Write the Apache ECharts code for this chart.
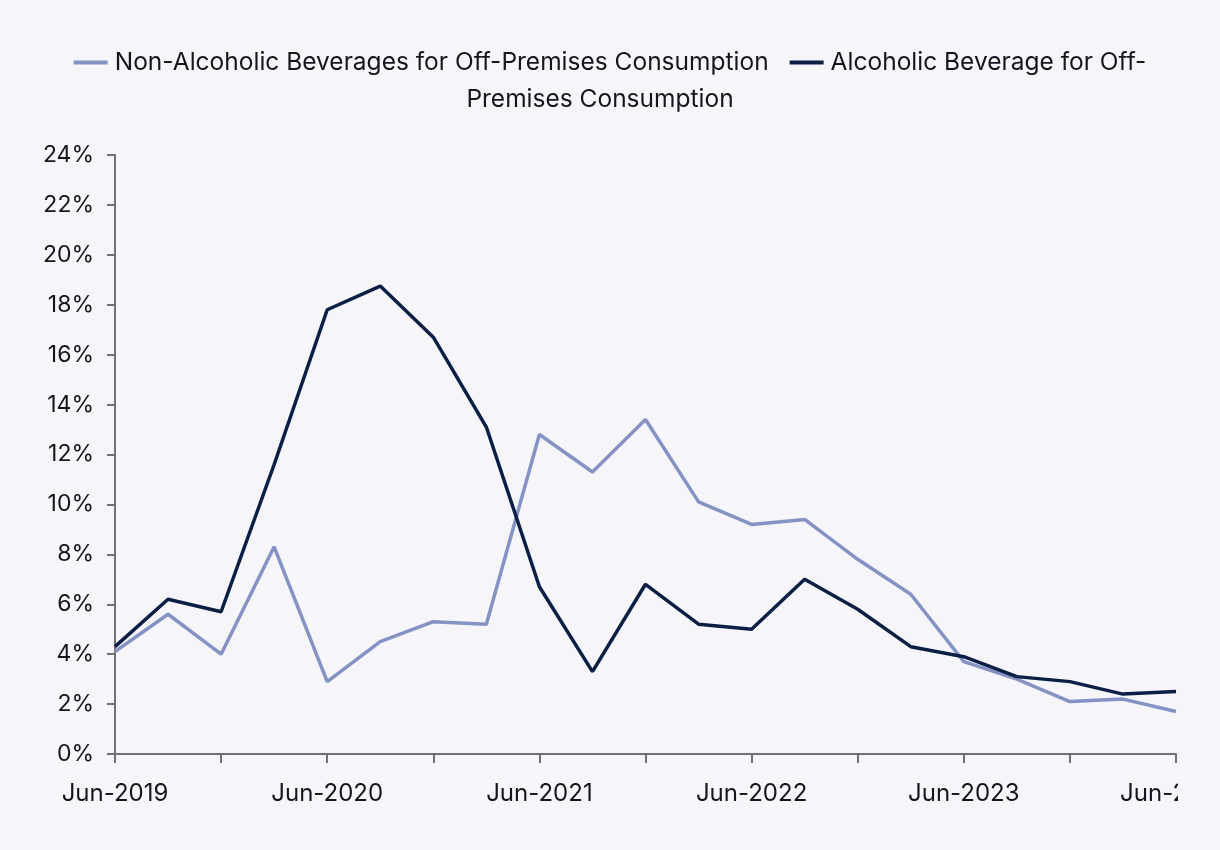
<!DOCTYPE html>
<html>
<head>
<meta charset="utf-8">
<script src="https://cdn.jsdelivr.net/npm/echarts@6/dist/echarts.min.js"></script>
<style>
html,body{margin:0;padding:0;background:#f5f5fa;}
#wrap{width:1178px;height:850px;overflow:hidden;}
#main{width:1220px;height:850px;}
</style>
</head>
<body>
<div id="wrap"><div id="main"></div></div>
<script>
const categories = ["Jun-2019","Sep-2019","Dec-2019","Mar-2020","Jun-2020","Sep-2020","Dec-2020","Mar-2021","Jun-2021","Sep-2021","Dec-2021","Mar-2022","Jun-2022","Sep-2022","Dec-2022","Mar-2023","Jun-2023","Sep-2023","Dec-2023","Mar-2024","Jun-2024"];
const nonAlcoholic = [4.1,5.6,4.0,8.3,2.9,4.5,5.3,5.2,12.8,11.3,13.4,10.1,9.2,9.4,7.8,6.4,3.7,3.0,2.1,2.2,1.7];
const alcoholic = [4.3,6.2,5.7,11.6,17.8,18.75,16.7,13.1,6.7,3.3,6.8,5.2,5.0,7.0,5.8,4.3,3.9,3.1,2.9,2.4,2.5];
const seriesNames = ["Non-Alcoholic Beverages for Off-Premises Consumption","Alcoholic Beverage for Off-Premises Consumption"];
const yTicks = {min:0,max:24,interval:2};

const FONT = 'Inter';
const FS = 23;
const LFS = 24.5;
const TXT = '#15151f';
const AX = '#707075';
const chart = echarts.init(document.getElementById('main'));
chart.setOption({
  backgroundColor:'#f5f5fa',
  textStyle:{fontFamily:FONT},
  legend:{
    top:45, left:'center', itemGap:21, itemWidth:34, itemHeight:4, icon:'rect',
    textStyle:{fontFamily:FONT,fontSize:LFS,color:TXT,padding:[0,0,0,2]},
    formatter:function(n){ return n===seriesNames[1] ? 'Alcoholic Beverage for Off-' : n; }
  },
  graphic:[{
    type:'text', x:600, y:100,
    style:{text:'Premises Consumption', font:'normal '+LFS+'px '+FONT, fill:TXT, textAlign:'center', textVerticalAlign:'middle'}
  }],
  grid:{left:115,right:44,top:155,bottom:96,outerBoundsMode:'none',containLabel:false},
  xAxis:{
    type:'category', data:categories, boundaryGap:false,
    axisLine:{lineStyle:{color:AX,width:2}},
    axisTick:{show:true,interval:1,length:9,lineStyle:{color:AX,width:2}},
    axisLabel:{interval:3,color:TXT,fontFamily:FONT,fontSize:FS+1,margin:28}
  },
  yAxis:{
    type:'value', min:yTicks.min, max:yTicks.max, interval:yTicks.interval,
    splitLine:{show:false},
    axisLine:{show:true,lineStyle:{color:AX,width:2}},
    axisTick:{show:true,length:8,lineStyle:{color:AX,width:2}},
    axisLabel:{formatter:'{value}%',color:TXT,fontFamily:FONT,fontSize:FS,margin:21}
  },
  series:[
    {name:seriesNames[0],type:'line',data:nonAlcoholic,symbol:'none',color:'#8592c4',lineStyle:{width:3.5,color:'#8592c4'}},
    {name:seriesNames[1],type:'line',data:alcoholic,symbol:'none',color:'#0b1f45',lineStyle:{width:3.5,color:'#0b1f45'}}
  ]
});
</script>
</body>
</html>
